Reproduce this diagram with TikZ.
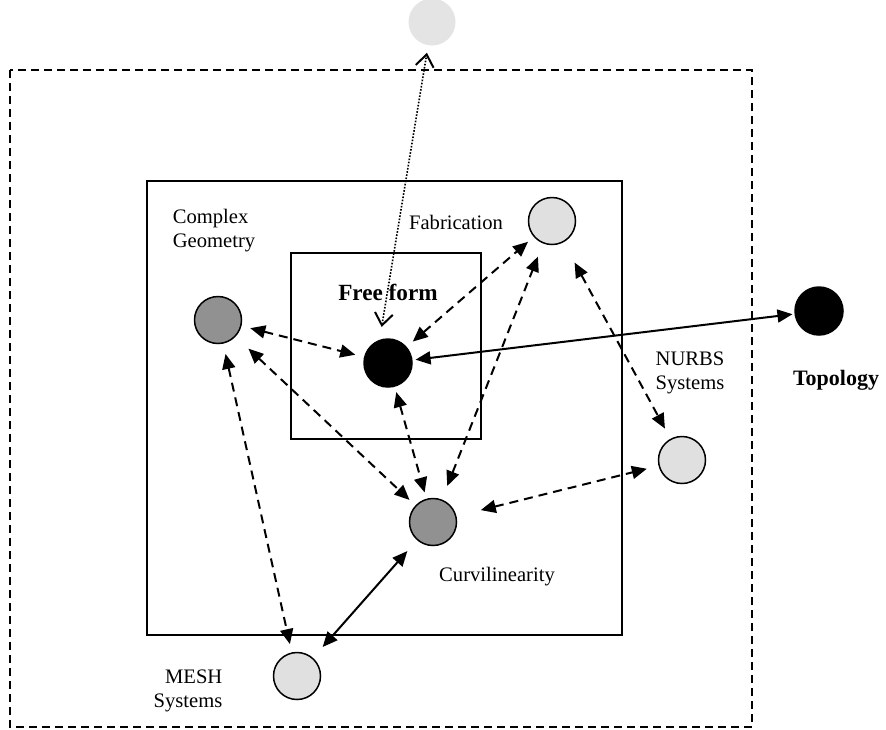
\documentclass[tikz,border=0pt]{standalone}
\usepackage{fontspec}
\setmainfont{Liberation Serif}
\usetikzlibrary{arrows.meta}
\definecolor{lightfill}{RGB}{224,224,224}
\definecolor{darkfill}{RGB}{145,145,145}
\definecolor{topfill}{RGB}{228,228,228}
\begin{document}
\begin{tikzpicture}[x=0.5pt,y=-0.5pt,
  >={Triangle[length=7.5pt,width=6.5pt]},
  circ/.style={circle,draw=black,line width=0.75pt,minimum size=23.5pt,inner sep=0pt},
  light/.style={circ,fill=lightfill},
  dark/.style={circ,fill=darkfill},
  blk/.style={circ,fill=black,minimum size=24pt},
  lbl/.style={font=\fontsize{10.3}{12}\selectfont,align=left,inner sep=0pt},
  blbl/.style={font=\fontsize{11}{13}\selectfont\bfseries,inner sep=0pt},
  dsh/.style={<->,line width=1pt,dash pattern=on 4.5pt off 3pt},
  sld/.style={<->,line width=1pt},
  dotl/.style={{Straight Barb[length=6pt,width=9pt,line width=1pt]}-{Straight Barb[length=6pt,width=9pt,line width=1pt]},line width=0.8pt,dash pattern=on 0.8pt off 0.8pt},
]
\useasboundingbox (0,0) rectangle (886,729);
% frames
\draw[line width=0.75pt,dash pattern=on 4pt off 2.5pt] (10,70) rectangle (752,727);
\draw[line width=1pt] (147,181) rectangle (622,635);
\draw[line width=1pt] (291,253) rectangle (481,439);
% circles
\node[circ,draw=none,fill=topfill] (top) at (432,22) {};
\node[dark] (cg) at (218,320) {};
\node[blk] (ff) at (388,363) {};
\node[light] (fab) at (552,221) {};
\node[blk] (topo) at (819,311) {};
\node[light] (nurbs) at (682,460) {};
\node[dark] (curv) at (433,522) {};
\node[light] (mesh) at (297,676) {};
% labels
\node[lbl] (lcg) at (214,231) {Complex\\Geometry};
\node[lbl] (lfab) at (456,222) {Fabrication};
\node[blbl,font=\fontsize{11.6}{13}\selectfont\bfseries] (lff) at (388,292) {Free form};
\node[lbl] (lnurbs) at (690,373) {NURBS\\Systems};
\node[blbl] (ltopo) at (836,380) {Topology};
\node[lbl] (lcurv) at (497,577) {Curvilinearity};
\node[lbl,align=right] (lmesh) at (188,691) {MESH\\Systems};
% connectors
\draw[dotl,shorten <=6.5pt,shorten >=3.5pt] (ff.110) -- (top);
\draw[dsh,shorten <=4.5pt,shorten >=4.5pt] (cg) -- (ff);
\draw[dsh,shorten <=8.75pt,shorten >=4pt] (cg) -- (curv);
\draw[dsh,shorten <=2.75pt,shorten >=3.25pt] (ff) -- (curv);
\draw[dsh,shorten <=7.25pt,shorten >=7pt] (curv) -- (fab);
\draw[dsh,shorten <=4pt,shorten >=3.75pt] (ff) -- (fab);
\draw[sld,shorten <=1.5pt,shorten >=1pt] (ff) -- (topo);
\draw[dsh,shorten <=11.5pt,shorten >=5.75pt] (fab) -- (nurbs);
\draw[dsh,shorten <=12.5pt,shorten >=6pt] (curv) -- (nurbs);
\draw[dsh,shorten <=5.25pt,shorten >=4.25pt] (cg) -- (mesh);
\draw[sld,shorten <=7.25pt,shorten >=7.25pt] (curv) -- (mesh);
\end{tikzpicture}
\end{document}
